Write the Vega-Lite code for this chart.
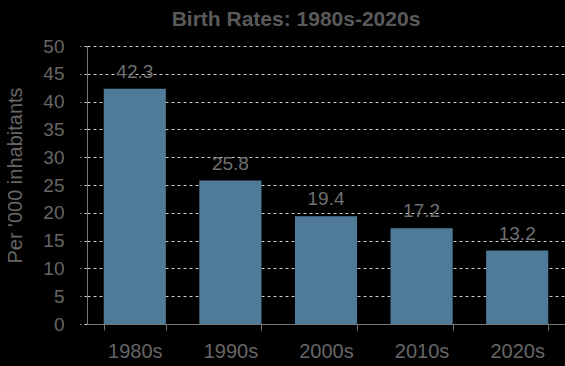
{
  "$schema": "https://vega.github.io/schema/vega-lite/v6.json",
  "width": 478,
  "height": 278,
  "autosize": {"type": "none"},
  "padding": {"left": 87, "top": 46, "right": 0, "bottom": 42},
  "background": "#000000",
  "config": {
    "view": {"stroke": null},
    "font": "Liberation Sans"
  },
  "title": {
    "text": "Birth Rates: 1980s-2020s",
    "fontSize": 21,
    "fontWeight": "bold",
    "color": "#5a5a5a",
    "anchor": "middle",
    "dx": -30,
    "offset": 7
  },
  "data": {
    "values": [
      {"decade": "1980s", "rate": 42.3},
      {"decade": "1990s", "rate": 25.8},
      {"decade": "2000s", "rate": 19.4},
      {"decade": "2010s", "rate": 17.2},
      {"decade": "2020s", "rate": 13.2}
    ]
  },
  "encoding": {
    "x": {
      "field": "decade",
      "type": "nominal",
      "sort": null,
      "scale": {"paddingInner": 0.35, "paddingOuter": 0.175},
      "axis": {
        "title": null,
        "labelAngle": 0,
        "labelFontSize": 20,
        "labelColor": "#666666",
        "labelPadding": 11,
        "domainColor": "#777777",
        "tickColor": "#777777",
        "tickSize": 6,
        "tickBand": "extent"
      }
    },
    "y": {
      "field": "rate",
      "type": "quantitative",
      "scale": {"domain": [0, 50]},
      "axis": {
        "title": "Per '000 inhabitants",
        "titleFontSize": 20,
        "titleFontWeight": "normal",
        "titleColor": "#666666",
        "titlePadding": 17,
        "titleY": 129,
        "values": [0, 5, 10, 15, 20, 25, 30, 35, 40, 45, 50],
        "labelFontSize": 19,
        "labelColor": "#666666",
        "labelPadding": 16,
        "domainColor": "#777777",
        "tickColor": "#cccccc",
        "tickSize": 7,
        "tickDash": [3, 3],
        "grid": true,
        "gridColor": "#cccccc",
        "gridDash": [3, 3],
        "gridWidth": 1
      }
    }
  },
  "layer": [
    {"mark": {"type": "bar", "color": "#4f7b98"}},
    {
      "mark": {"type": "text", "baseline": "alphabetic", "dy": -11, "fontSize": 19, "color": "#707070"},
      "encoding": {"text": {"field": "rate", "type": "quantitative", "format": ".1f"}}
    }
  ]
}
